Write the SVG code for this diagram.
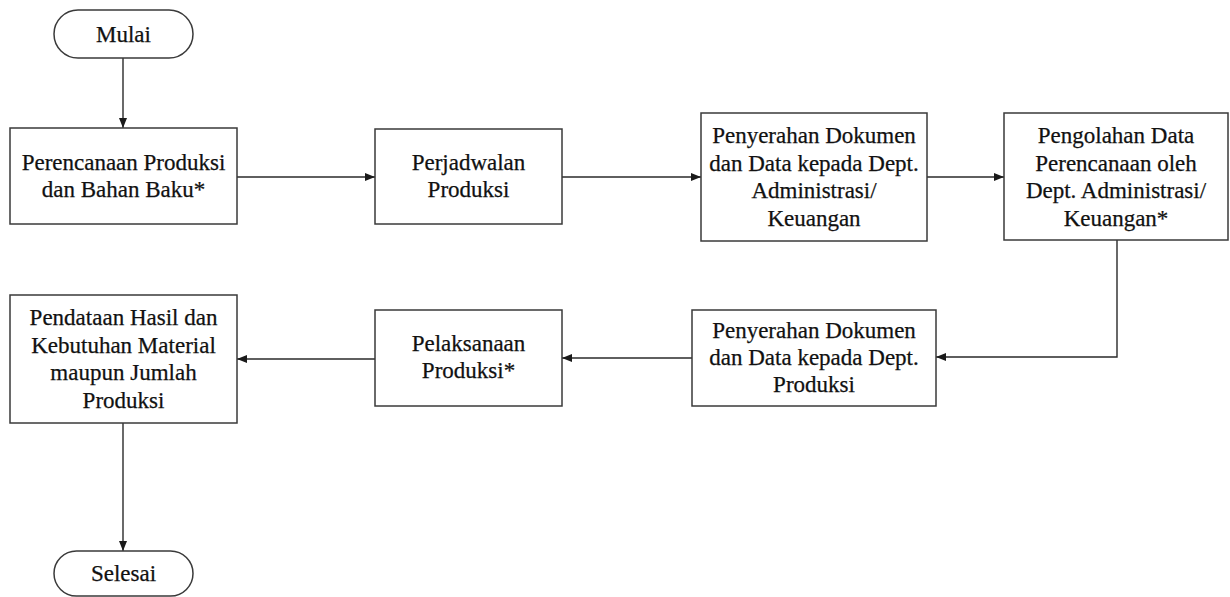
<svg xmlns="http://www.w3.org/2000/svg" width="1230" height="597" viewBox="0 0 1230 597">
  <style>
    .box { fill: #ffffff; stroke: #3a3a3a; stroke-width: 1.5; }
    .lbl { font-size: 23px; fill: #111111; stroke: #111111; stroke-width: 0.25; text-anchor: middle; }
    .edge { fill: none; stroke: #2a2a2a; stroke-width: 1.4; }
  </style>
  <defs>
    <marker id="arrow" markerWidth="10" markerHeight="8" refX="10" refY="4" orient="auto" markerUnits="userSpaceOnUse">
      <path d="M0,0 L10,4 L0,8 Z" fill="#1a1a1a"/>
    </marker>
  </defs>
  <rect width="1230" height="597" fill="#ffffff"/>

  <!-- connectors -->
  <g id="connectors">
    <path class="edge" d="M123,58 V128" marker-end="url(#arrow)"/>
    <path class="edge" d="M237,177 H375" marker-end="url(#arrow)"/>
    <path class="edge" d="M562,177 H701" marker-end="url(#arrow)"/>
    <path class="edge" d="M927,177 H1004" marker-end="url(#arrow)"/>
    <path class="edge" d="M1117,240 V357 H936" marker-end="url(#arrow)"/>
    <path class="edge" d="M692,358 H562" marker-end="url(#arrow)"/>
    <path class="edge" d="M375,359 H237" marker-end="url(#arrow)"/>
    <path class="edge" d="M123,423 V551" marker-end="url(#arrow)"/>
  </g>

  <g font-family="'Liberation Serif', 'DejaVu Serif', 'Times New Roman', serif">
  <!-- start -->
  <g id="mulai">
    <rect class="box" x="54" y="10" width="139" height="48" rx="24" ry="24"/>
    <text class="lbl" x="123.5" y="41.5">Mulai</text>
  </g>

  <g id="perencanaan">
    <rect class="box" x="10" y="128" width="227" height="96"/>
    <text class="lbl" x="123.5" y="170">Perencanaan Produksi</text>
    <text class="lbl" x="123.5" y="197">dan Bahan Baku*</text>
  </g>

  <g id="perjadwalan">
    <rect class="box" x="375" y="129" width="187" height="95"/>
    <text class="lbl" x="468.5" y="170">Perjadwalan</text>
    <text class="lbl" x="468.5" y="197">Produksi</text>
  </g>

  <g id="penyerahan-admin">
    <rect class="box" x="701" y="113" width="226" height="128"/>
    <text class="lbl" x="814" y="143">Penyerahan Dokumen</text>
    <text class="lbl" x="814" y="171">dan Data kepada Dept.</text>
    <text class="lbl" x="814" y="198">Administrasi/</text>
    <text class="lbl" x="814" y="226">Keuangan</text>
  </g>

  <g id="pengolahan">
    <rect class="box" x="1004" y="113" width="224" height="127"/>
    <text class="lbl" x="1116" y="143">Pengolahan Data</text>
    <text class="lbl" x="1116" y="171">Perencanaan oleh</text>
    <text class="lbl" x="1116" y="198">Dept. Administrasi/</text>
    <text class="lbl" x="1116" y="226">Keuangan*</text>
  </g>

  <g id="penyerahan-produksi">
    <rect class="box" x="692" y="310" width="244" height="96"/>
    <text class="lbl" x="814" y="338">Penyerahan Dokumen</text>
    <text class="lbl" x="814" y="365">dan Data kepada Dept.</text>
    <text class="lbl" x="814" y="392">Produksi</text>
  </g>

  <g id="pelaksanaan">
    <rect class="box" x="375" y="310" width="187" height="96"/>
    <text class="lbl" x="468.5" y="351">Pelaksanaan</text>
    <text class="lbl" x="468.5" y="378">Produksi*</text>
  </g>

  <g id="pendataan">
    <rect class="box" x="10" y="295" width="227" height="128"/>
    <text class="lbl" x="123.5" y="325">Pendataan Hasil dan</text>
    <text class="lbl" x="123.5" y="353">Kebutuhan Material</text>
    <text class="lbl" x="123.5" y="380">maupun Jumlah</text>
    <text class="lbl" x="123.5" y="408">Produksi</text>
  </g>

  <!-- end -->
  <g id="selesai">
    <rect class="box" x="54" y="551" width="139" height="45" rx="22.5" ry="22.5"/>
    <text class="lbl" x="123.5" y="581">Selesai</text>
  </g>
  </g>
</svg>
